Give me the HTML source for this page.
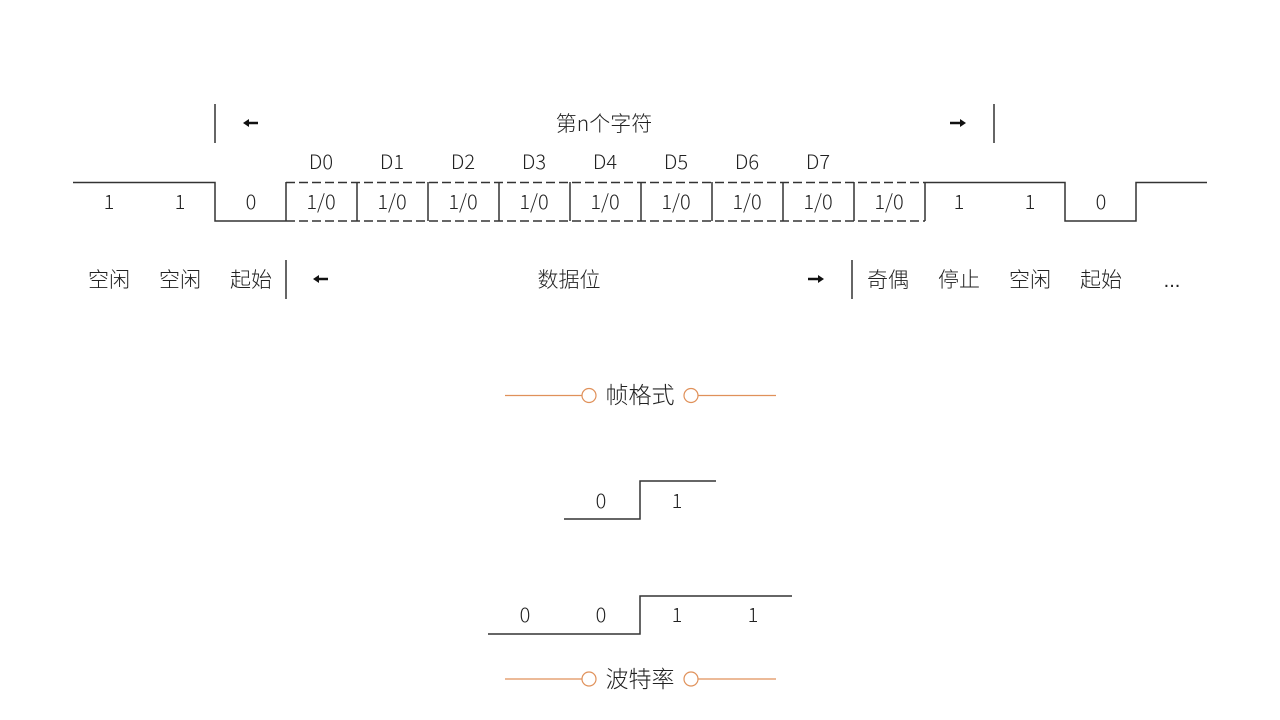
<!DOCTYPE html>
<html><head><meta charset="utf-8"><style>
html,body{margin:0;padding:0;background:#fff;}
svg{display:block}
text{font-family:"Liberation Sans","Noto Sans CJK SC",sans-serif;font-size:20px;fill:#222;text-anchor:middle;}
.n{font-family:"Noto Sans CJK SC","Liberation Sans",sans-serif;font-weight:300;font-size:20px;}
.c{font-family:"Noto Sans CJK SC","Liberation Sans",sans-serif;font-weight:300;font-size:21px;}
</style></head><body>
<svg width="1280" height="720" viewBox="0 0 1280 720">
<g stroke="#333" stroke-width="1.5" fill="none">
<line x1="215" y1="104" x2="215" y2="143"/>
<line x1="994" y1="104" x2="994" y2="143"/>
<polyline points="73,182.5 215,182.5 215,221 286,221"/>
<polyline points="925,182.5 1065,182.5 1065,221 1136,221 1136,182.5 1207,182.5"/>
<line x1="286" y1="182.5" x2="925" y2="182.5" stroke-dasharray="9,4"/>
<line x1="286" y1="221" x2="925" y2="221" stroke-dasharray="9,4"/>
<line x1="286" y1="182" x2="286" y2="221"/><line x1="357" y1="182" x2="357" y2="221"/>
<line x1="428" y1="182" x2="428" y2="221"/><line x1="499" y1="182" x2="499" y2="221"/>
<line x1="570" y1="182" x2="570" y2="221"/><line x1="641" y1="182" x2="641" y2="221"/>
<line x1="712" y1="182" x2="712" y2="221"/><line x1="783" y1="182" x2="783" y2="221"/>
<line x1="854" y1="182" x2="854" y2="221"/><line x1="925" y1="182" x2="925" y2="221"/>
<line x1="286" y1="260" x2="286" y2="299"/>
<line x1="852" y1="260" x2="852" y2="299"/>
<polyline points="564,519 640,519 640,481 716,481"/>
<polyline points="488,634 640,634 640,596 792,596"/>
</g>
<g fill="#111" stroke="#111" stroke-width="2.5">
<line x1="247" y1="123" x2="258" y2="123"/><polygon points="243,123 249,119 249,127" stroke="none"/>
<line x1="950" y1="123" x2="961" y2="123"/><polygon points="966,123 960,119 960,127" stroke="none"/>
<line x1="317" y1="279" x2="328" y2="279"/><polygon points="313,279 319,275 319,283" stroke="none"/>
<line x1="808" y1="279" x2="819" y2="279"/><polygon points="824,279 818,275 818,283" stroke="none"/>
</g>
<g stroke="#E0915A" stroke-width="1.2" fill="none">
<line x1="505" y1="395.5" x2="582" y2="395.5"/><circle cx="589" cy="395.5" r="7"/>
<circle cx="691" cy="395.5" r="7"/><line x1="698" y1="395.5" x2="776" y2="395.5"/>
<line x1="505" y1="679" x2="582" y2="679"/><circle cx="589" cy="679" r="7"/>
<circle cx="691" cy="679" r="7"/><line x1="698" y1="679" x2="776" y2="679"/>
</g>
<g>
<text x="604" y="131" class="c">第n个字符</text>
<g class="n">
<text x="321" y="169" class="n">D0</text><text x="392" y="169" class="n">D1</text><text x="463" y="169" class="n">D2</text>
<text x="534" y="169" class="n">D3</text><text x="605" y="169" class="n">D4</text><text x="676" y="169" class="n">D5</text>
<text x="747" y="169" class="n">D6</text><text x="818" y="169" class="n">D7</text>
<text x="109" y="209" class="n">1</text><text x="180" y="209" class="n">1</text><text x="251" y="209" class="n">0</text>
<text x="321" y="209" class="n">1/0</text><text x="392" y="209" class="n">1/0</text><text x="463" y="209" class="n">1/0</text>
<text x="534" y="209" class="n">1/0</text><text x="605" y="209" class="n">1/0</text><text x="676" y="209" class="n">1/0</text>
<text x="747" y="209" class="n">1/0</text><text x="818" y="209" class="n">1/0</text><text x="889" y="209" class="n">1/0</text>
<text x="959" y="209" class="n">1</text><text x="1030" y="209" class="n">1</text><text x="1101" y="209" class="n">0</text>
</g>
<text x="109" y="287" class="c">空闲</text><text x="180" y="287" class="c">空闲</text><text x="251" y="287" class="c">起始</text>
<text x="569" y="287" class="c">数据位</text>
<text x="888" y="287" class="c">奇偶</text><text x="959" y="287" class="c">停止</text>
<text x="1030" y="287" class="c">空闲</text><text x="1101" y="287" class="c">起始</text>
<text x="1172" y="287">...</text>
<text x="640" y="403" class="c" style="font-size:23px">帧格式</text>
<text x="601" y="508" class="n">0</text><text x="677" y="508" class="n">1</text>
<text x="525" y="622" class="n">0</text><text x="601" y="622" class="n">0</text><text x="677" y="622" class="n">1</text><text x="753" y="622" class="n">1</text>
<text x="640" y="687" class="c" style="font-size:23px">波特率</text>
</g>
</svg>
</body></html>
